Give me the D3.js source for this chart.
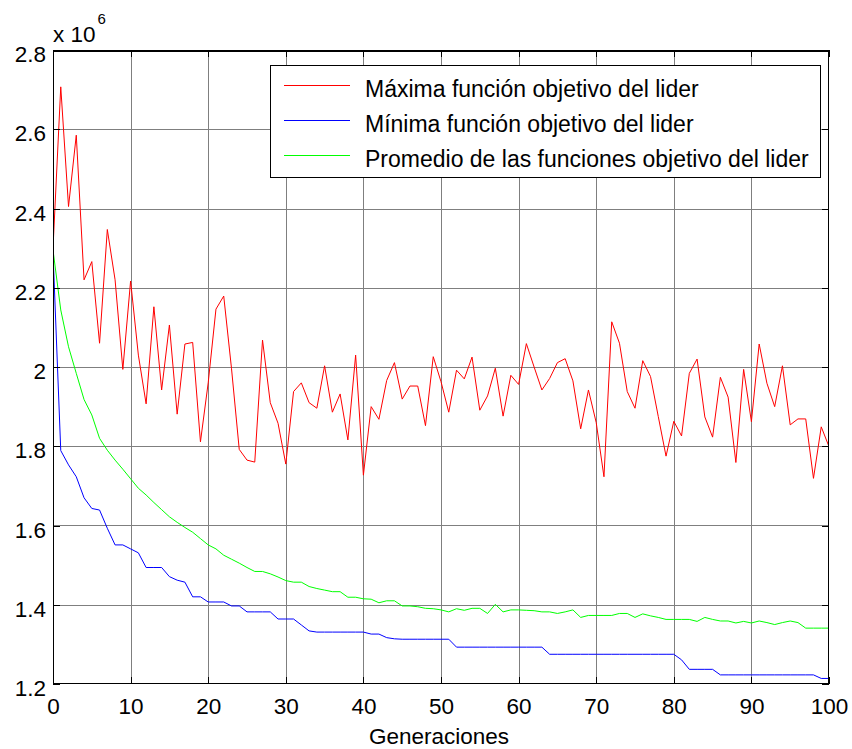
<!DOCTYPE html>
<html><head><meta charset="utf-8">
<script src="https://cdn.jsdelivr.net/npm/d3@7"></script>
<style>body{margin:0;background:#fff}svg{display:block}</style>
</head><body>
<svg id="c" width="852" height="749"></svg>
<script>
// Values in units of 10^6
const maxLeader = [2.300,2.707,2.405,2.585,2.220,2.266,2.060,2.347,2.220,1.994,
2.217,2.030,1.907,2.152,1.942,2.106,1.881,2.058,2.062,1.811,
1.960,2.146,2.179,1.997,1.792,1.765,1.760,2.068,1.910,1.858,
1.755,1.938,1.960,1.910,1.896,2.003,1.886,1.932,1.816,2.030,
1.727,1.900,1.868,1.966,2.011,1.919,1.952,1.952,1.852,2.026,
1.963,1.886,1.992,1.970,2.025,1.891,1.927,1.997,1.876,1.979,
1.956,2.059,2.000,1.942,1.971,2.011,2.021,1.965,1.844,1.942,
1.860,1.723,2.114,2.060,1.938,1.896,2.016,1.976,1.875,1.775,
1.863,1.826,1.984,2.020,1.874,1.823,1.974,1.924,1.759,1.994,
1.862,2.058,1.959,1.900,2.003,1.854,1.869,1.869,1.719,1.849,
1.799];
const minLeader = [2.290,1.789,1.753,1.723,1.670,1.643,1.639,1.593,1.551,1.551,
1.541,1.531,1.494,1.494,1.494,1.471,1.462,1.457,1.420,1.420,
1.407,1.407,1.407,1.397,1.397,1.382,1.382,1.382,1.382,1.364,
1.364,1.364,1.349,1.334,1.331,1.331,1.331,1.331,1.331,1.331,
1.331,1.326,1.326,1.317,1.314,1.313,1.313,1.313,1.313,1.313,
1.313,1.313,1.293,1.293,1.293,1.293,1.293,1.293,1.293,1.293,
1.293,1.293,1.293,1.293,1.275,1.275,1.275,1.275,1.275,1.275,
1.275,1.275,1.275,1.275,1.275,1.275,1.275,1.275,1.275,1.275,
1.275,1.261,1.237,1.237,1.237,1.237,1.223,1.223,1.223,1.223,
1.223,1.223,1.223,1.223,1.223,1.223,1.223,1.223,1.223,1.214,
1.214];
const avgLeader = [2.295,2.144,2.051,1.984,1.918,1.879,1.820,1.790,1.765,1.742,
1.718,1.694,1.677,1.658,1.640,1.622,1.608,1.595,1.583,1.567,
1.551,1.541,1.525,1.515,1.505,1.494,1.484,1.484,1.478,1.470,
1.461,1.457,1.457,1.446,1.441,1.437,1.433,1.433,1.419,1.419,
1.415,1.414,1.405,1.410,1.410,1.397,1.397,1.395,1.391,1.390,
1.387,1.382,1.390,1.386,1.391,1.391,1.378,1.401,1.382,1.387,
1.387,1.386,1.385,1.382,1.382,1.378,1.382,1.387,1.368,1.373,
1.373,1.373,1.373,1.378,1.378,1.368,1.377,1.372,1.368,1.363,
1.363,1.363,1.363,1.358,1.368,1.363,1.359,1.359,1.354,1.358,
1.354,1.359,1.355,1.350,1.355,1.359,1.355,1.341,1.341,1.341,
1.341];
const xTicks = [0,10,20,30,40,50,60,70,80,90,100];
const yTicks = [1.2,1.4,1.6,1.8,2.0,2.2,2.4,2.6,2.8];
const yTickLabels = ["1.2","1.4","1.6","1.8","2","2.2","2.4","2.6","2.8"];
const seriesNames = ["Máxima función objetivo del lider","Mínima función objetivo del lider","Promedio de las funciones objetivo del lider"];
const seriesColors = ["#ff0000","#0000ff","#00ff00"];
const xLabel = "Generaciones";

const FONT = "'Liberation Sans', Arial, sans-serif";
const FS = "22.5px";
const svg = d3.select("#c");
const L=53, R=829, T=50, B=684;
const x = d3.scaleLinear().domain([0,100]).range([L,R]);
const y = d3.scaleLinear().domain([1.2,2.8]).range([B,T]);

svg.append("rect").attr("width",852).attr("height",749).attr("fill","#fff");

// grid
const grid = svg.append("g").attr("shape-rendering","crispEdges");
grid.selectAll("line.v").data(xTicks.slice(1,-1)).join("line")
  .attr("x1",d=>Math.round(x(d))+0.5).attr("x2",d=>Math.round(x(d))+0.5)
  .attr("y1",T).attr("y2",B).attr("stroke","#7f7f7f").attr("stroke-width",1);
grid.selectAll("line.h").data(yTicks.slice(1,-1)).join("line")
  .attr("y1",d=>Math.round(y(d))+0.5).attr("y2",d=>Math.round(y(d))+0.5)
  .attr("x1",L).attr("x2",R).attr("stroke","#7f7f7f").attr("stroke-width",1);

// clip
svg.append("clipPath").attr("id","clip").append("rect")
  .attr("x",L).attr("y",T).attr("width",R-L).attr("height",B-T);

const line = d3.line().x((d,i)=>x(i)).y(d=>y(d));
const plot = svg.append("g").attr("clip-path","url(#clip)");
[maxLeader,minLeader,avgLeader].forEach((s,k)=>{
  plot.append("path").datum(s).attr("d",line).attr("fill","none")
    .attr("stroke",seriesColors[k]).attr("stroke-width",1).attr("stroke-linejoin","miter");
});

// axes
function styleAxis(g){
  g.select(".domain").remove();
  g.selectAll(".tick line").attr("stroke","#000").attr("shape-rendering","crispEdges");
  g.selectAll("text").attr("font-family",FONT).attr("font-size",FS).attr("fill","#000");
}
const TL = 7;
svg.append("g").attr("transform",`translate(${L},0)`)
  .call(d3.axisLeft(y).tickValues(yTicks).tickFormat((d,i)=>yTickLabels[i]).tickSize(-TL).tickPadding(7))
  .call(styleAxis).call(g=>g.selectAll("text").attr("dy","0.52em"));
svg.append("g").attr("transform",`translate(${R},0)`)
  .call(d3.axisRight(y).tickValues(yTicks).tickFormat("").tickSize(-TL))
  .call(styleAxis);
svg.append("g").attr("transform",`translate(0,${B})`)
  .call(d3.axisBottom(x).tickValues(xTicks).tickFormat(d3.format("d")).tickSize(-TL).tickPadding(14))
  .call(styleAxis);
svg.append("g").attr("transform",`translate(0,${T})`)
  .call(d3.axisTop(x).tickValues(xTicks).tickFormat("").tickSize(-TL))
  .call(styleAxis);

// box
svg.append("rect").attr("x",L+0.5).attr("y",T+0.5).attr("width",R-L-1).attr("height",B-T-1)
  .attr("fill","none").attr("stroke","#000").attr("stroke-width",1).attr("shape-rendering","crispEdges");
svg.append("line").attr("x1",L).attr("x2",R).attr("y1",T+1.5).attr("y2",T+1.5)
  .attr("stroke","#000").attr("stroke-width",1).attr("shape-rendering","crispEdges");

// exponent label
svg.append("text").attr("x",53).attr("y",41.5).attr("font-family",FONT).attr("font-size",FS).attr("fill","#000").text("x 10");
svg.append("text").attr("x",97.5).attr("y",24).attr("font-family",FONT).attr("font-size","15px").attr("fill","#000").text("6");

// x label
svg.append("text").attr("x",439).attr("y",743.5).attr("text-anchor","middle")
  .attr("font-family",FONT).attr("font-size",FS).attr("fill","#000").text(xLabel);

// legend
const lg = svg.append("g");
lg.append("rect").attr("x",270.5).attr("y",65.5).attr("width",550).attr("height",112)
  .attr("fill","#fff").attr("stroke","#000").attr("stroke-width",1).attr("shape-rendering","crispEdges");
const rowY = [85.5,120.5,155.5];
seriesNames.forEach((n,k)=>{
  lg.append("line").attr("x1",284).attr("x2",350).attr("y1",rowY[k]).attr("y2",rowY[k])
    .attr("stroke",seriesColors[k]).attr("stroke-width",1);
  lg.append("text").attr("x",365).attr("y",rowY[k]+11).attr("font-family",FONT).attr("font-size","23px")
    .attr("fill","#000").text(n);
});
</script>
</body></html>
